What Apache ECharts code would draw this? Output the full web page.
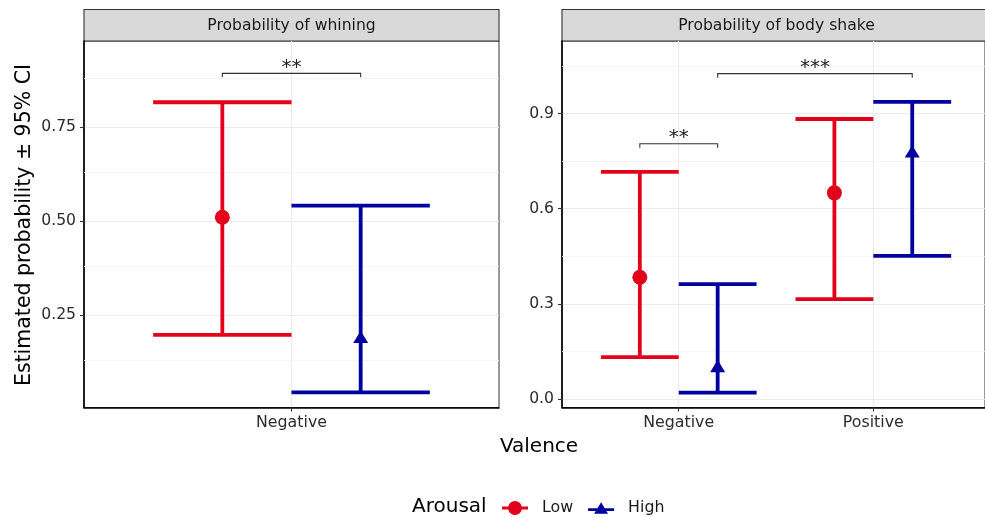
<!DOCTYPE html>
<html><head><meta charset="utf-8">
<script src="https://cdn.jsdelivr.net/npm/echarts@6/dist/echarts.min.js"></script>
<style>html,body{margin:0;padding:0;background:#fff}#c{width:985px;height:517px}</style>
</head><body><div id="c"></div>
<script>
// ---- data ----
const panelTitles = ['Probability of whining', 'Probability of body shake'];
const groups = ['Low', 'High'];
const whiningCats = ['Negative'];
const whiningLowEst = [0.51];
const whiningLowLo = [0.197];
const whiningLowHi = [0.816];
const whiningHighEst = [0.187];
const whiningHighLo = [0.044];
const whiningHighHi = [0.541];
const shakeCats = ['Negative', 'Positive'];
const shakeLowEst = [0.384, 0.65];
const shakeLowLo = [0.132, 0.315];
const shakeLowHi = [0.716, 0.883];
const shakeHighEst = [0.098, 0.775];
const shakeHighLo = [0.02, 0.451];
const shakeHighHi = [0.362, 0.937];
const whiningTicks = [0.25, 0.5, 0.75];
const shakeTicks = [0, 0.3, 0.6, 0.9];
const whiningBrackets = [{a: ['Negative', 'Low'], b: ['Negative', 'High'], y: 0.893, label: '**'}];
const shakeBrackets = [
  {a: ['Negative', 'Low'], b: ['Negative', 'High'], y: 0.805, label: '**'},
  {a: ['Negative', 'High'], b: ['Positive', 'High'], y: 1.026, label: '***'}
];

// ---- styling ----
const FONT = 'DejaVu Sans';
const RED = '#E3001B';
const BLUE = '#0000A0';
const dodge = {Low: -0.2, High: 0.2};
const capHalf = 0.2;
const colors = {Low: RED, High: BLUE};
const shapes = {Low: 'circle', High: 'triangle'};

function errData(cats, est, lo, hi, g) {
  return cats.map((c, i) => [i + 1 + dodge[g], lo[i], est[i], hi[i]]);
}
function errRender(shape, color) {
  return function (params, api) {
    const x = api.value(0), lo = api.value(1), mid = api.value(2), hi = api.value(3);
    const pLo = api.coord([x, lo]), pHi = api.coord([x, hi]), pMid = api.coord([x, mid]);
    const cl = api.coord([x - capHalf, lo])[0], cr = api.coord([x + capHalf, lo])[0];
    const st = {stroke: color, lineWidth: 3.8};
    const ch = [
      {type: 'line', shape: {x1: pLo[0], y1: pLo[1], x2: pHi[0], y2: pHi[1]}, style: st},
      {type: 'line', shape: {x1: cl, y1: pLo[1], x2: cr, y2: pLo[1]}, style: st},
      {type: 'line', shape: {x1: cl, y1: pHi[1], x2: cr, y2: pHi[1]}, style: st}
    ];
    if (shape === 'circle') {
      ch.push({type: 'circle', shape: {cx: pMid[0], cy: pMid[1], r: 7.5}, style: {fill: color}});
    } else {
      const cx = pMid[0], cy = pMid[1];
      ch.push({type: 'polygon', shape: {points: [[cx, cy - 8], [cx + 7.5, cy + 4.3], [cx - 7.5, cy + 4.3]]}, style: {fill: color}});
    }
    return {type: 'group', children: ch};
  };
}
function bracketData(cats, brs) {
  return brs.map(b => [cats.indexOf(b.a[0]) + 1 + dodge[b.a[1]], cats.indexOf(b.b[0]) + 1 + dodge[b.b[1]], b.y]);
}
function bracketRender(brs) {
  return function (params, api) {
    const x1 = api.value(0), x2 = api.value(1), y = api.value(2);
    const p1 = api.coord([x1, y]), p2 = api.coord([x2, y]);
    const st = {stroke: '#333', lineWidth: 1.1, fill: null};
    return {type: 'group', children: [
      {type: 'polyline', shape: {points: [[p1[0], p1[1] + 4], [p1[0], p1[1]], [p2[0], p2[1]], [p2[0], p2[1] + 4]]}, style: st},
      {type: 'text', x: (p1[0] + p2[0]) / 2, y: p1[1] - 5.5, style: {text: brs[params.dataIndex].label, font: '20px ' + FONT, fill: '#222', align: 'center', verticalAlign: 'middle'}}
    ]};
  };
}
function minorLines(ticks, lo, hi) {
  const step = ticks[1] - ticks[0];
  const out = [];
  for (let v = ticks[0] - step / 2; v <= hi; v += step) if (v >= lo) out.push({yAxis: +v.toFixed(4)});
  return out;
}

const panels = [
  {cats: whiningCats, ticks: whiningTicks, ymin: 0.004, ymax: 0.979, xmax: 1.6, brs: whiningBrackets,
   data: {Low: errData(whiningCats, whiningLowEst, whiningLowLo, whiningLowHi, 'Low'),
          High: errData(whiningCats, whiningHighEst, whiningHighLo, whiningHighHi, 'High')},
   grid: {left: 84, top: 41, width: 415, height: 366.5}, fullWidth: 415, title: panelTitles[0]},
  {cats: shakeCats, ticks: shakeTicks, ymin: -0.027, ymax: 2.574 > 0 ? 1.129 : 1.129, xmax: 2.574, brs: shakeBrackets,
   data: {Low: errData(shakeCats, shakeLowEst, shakeLowLo, shakeLowHi, 'Low'),
          High: errData(shakeCats, shakeHighEst, shakeHighLo, shakeHighHi, 'High')},
   grid: {left: 562, top: 41, width: 424, height: 366.5}, fullWidth: 429, title: panelTitles[1]}
];

const grids = [], xAxes = [], yAxes = [], series = [], graphics = [];
panels.forEach((p, k) => {
  grids.push(Object.assign({show: true, borderColor: '#333', borderWidth: 1, backgroundColor: '#fff'}, p.grid));
  const catVals = p.cats.map((c, i) => i + 1);
  xAxes.push({type: 'value', gridIndex: k, min: 0.4, max: p.xmax,
    axisLine: {show: true, onZero: false, lineStyle: {color: '#000', width: 1.6}},
    axisTick: {show: true, length: 4, customValues: catVals, lineStyle: {color: '#333', width: 1.1}},
    axisLabel: {customValues: catVals, formatter: v => p.cats[Math.round(v) - 1] || '', margin: 7,
      fontFamily: FONT, fontSize: 15.8, color: '#2b2b2b'},
    splitLine: {show: true, lineStyle: {color: '#ebebeb', width: 1.1}}});
  yAxes.push({type: 'value', gridIndex: k, min: p.ymin, max: p.ymax,
    axisLine: {show: true, onZero: false, lineStyle: {color: '#000', width: 1.6}},
    axisTick: {show: true, length: 4, customValues: p.ticks, lineStyle: {color: '#333', width: 1.1}},
    axisLabel: {customValues: p.ticks, formatter: v => p.ticks[0] === 0 ? v.toFixed(1) : v.toFixed(2), margin: 8,
      fontFamily: FONT, fontSize: 15.6, color: '#2b2b2b'},
    splitLine: {show: true, lineStyle: {color: '#ebebeb', width: 1.1}}});
  series.push({type: 'custom', xAxisIndex: k, yAxisIndex: k, data: [], silent: true, z: 1,
    renderItem: () => null,
    markLine: {silent: true, symbol: 'none', label: {show: false}, animation: false,
      lineStyle: {color: '#f2f2f2', width: 0.8, type: 'solid'},
      data: minorLines(p.ticks, p.ymin, p.ymax)}});
  groups.forEach(g => {
    series.push({type: 'custom', name: g, xAxisIndex: k, yAxisIndex: k, z: 5,
      itemStyle: {color: colors[g]}, encode: {x: 0, y: [1, 2, 3]},
      data: p.data[g], renderItem: errRender(shapes[g], colors[g])});
  });
  series.push({type: 'custom', xAxisIndex: k, yAxisIndex: k, z: 6, silent: true,
    encode: {x: [0, 1], y: 2}, data: bracketData(p.cats, p.brs), renderItem: bracketRender(p.brs)});
  // strip
  graphics.push({type: 'rect', shape: {x: p.grid.left, y: 9.5, width: p.fullWidth, height: 31.5},
    style: {fill: '#d9d9d9', stroke: '#333', lineWidth: 1.1}});
  graphics.push({type: 'text', x: p.grid.left + p.fullWidth / 2, y: 25.5,
    style: {text: p.title, font: '15.6px ' + FONT, fill: '#1a1a1a', align: 'center', verticalAlign: 'middle'}});
});

graphics.push({type: 'text', x: 25, y: 225, rotation: Math.PI / 2,
  style: {text: 'Estimated probability ± 95% CI', font: '20.5px ' + FONT, fill: '#000', align: 'center', verticalAlign: 'middle'}});
graphics.push({type: 'text', x: 539, y: 447,
  style: {text: 'Valence', font: '20px ' + FONT, fill: '#000', align: 'center', verticalAlign: 'middle'}});
graphics.push({type: 'text', x: 412, y: 507,
  style: {text: 'Arousal', font: '20px ' + FONT, fill: '#000', align: 'left', verticalAlign: 'middle'}});

const circleIcon = 'path://M0,6.5H28V9.5H0Z M6.5,8A7.5,7.5 0 1 1 21.5,8A7.5,7.5 0 1 1 6.5,8Z';
const triIcon = 'path://M0,6.5H28V9.5H0Z M14,0L21.5,12.5L6.5,12.5Z';

const chart = echarts.init(document.getElementById('c'), null, {renderer: 'canvas'});
chart.setOption({
  animation: false,
  backgroundColor: '#fff',
  grid: grids, xAxis: xAxes, yAxis: yAxes, series: series,
  graphic: graphics,
  legend: {left: 497, top: 495, itemWidth: 26, itemHeight: 16, itemGap: 15, selectedMode: false,
    data: [{name: 'Low', icon: circleIcon}, {name: 'High', icon: triIcon}],
    textStyle: {fontFamily: FONT, fontSize: 15.8, color: '#1a1a1a', padding: [0, 0, 0, 9]}}
});
</script></body></html>
